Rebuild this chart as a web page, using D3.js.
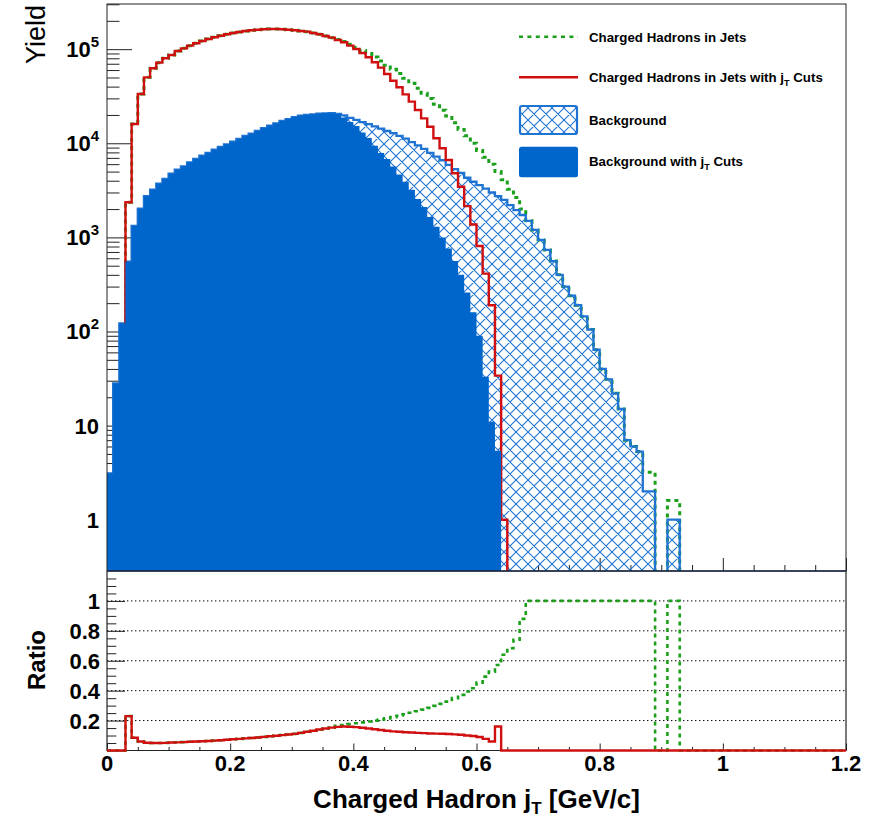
<!DOCTYPE html>
<html><head><meta charset="utf-8">
<script src="https://cdn.jsdelivr.net/npm/d3@7"></script>
<style>
html,body{margin:0;padding:0;background:#fff;}
svg{display:block;font-family:"Liberation Sans",Arial,Helvetica,sans-serif;}
</style></head><body>
<svg id="c" width="896" height="819"></svg>
<script>
// ---------------- data (bins of width 0.01 GeV/c, from 0 to 1.2) ----------------
const binWidth = 0.01;
const nBins = 120;

// Charged Hadrons in Jets with jT Cuts (red)
const chWithCuts = [0,0,0,2360,16000,33400,50200,62700,71900,80000,
  86700,95700,102000,109000,115600,122300,128400,133700,139000,143900,
  148500,152300,156100,158600,161000,162600,164000,164000,162600,161000,
  158600,156000,153500,148700,143900,138100,132500,125300,118400,109000,
  100500,91100,82000,72600,63600,54500,46200,39400,33100,27700,
  22600,18400,15000,11300,8850,6640,4800,3450,2150,1370,
  810,412,190,34,1.0,0,0,0,0,0,
  0,0,0,0,0,0,0,0,0,0, 0,0,0,0,0,0,0,0,0,0, 0,0,0,0,0,0,0,0,0,0,
  0,0,0,0,0,0,0,0,0,0, 0,0,0,0,0,0,0,0,0,0];

// Charged Hadrons in Jets (green dashed)
const chAll = [0,0,0,2360,16000,33400,50200,62700,71900,80000,
  86700,95700,102000,109000,115600,122300,128400,133700,139000,143900,
  148500,152300,156100,158600,161000,162600,164000,164000,162600,161000,
  158600,156000,153500,148700,143900,138100,132500,127000,120500,113000,
  104500,97000,90000,82500,75000,67500,61000,55000,49000,43500,
  38500,34000,30000,26000,22500,19500,16500,14000,12000,10000,
  8400,7100,6000,5000,4100,3250,2650,2000,1500,1200,
  940,735,560,400,300,240,190,145,105,64,
  40,31,22,15,7,6,5.3,3.2,3.2,0,
  0,1.6,1.6,0,0,0,0,0,0,0, 0,0,0,0,0,0,0,0,0,0, 0,0,0,0,0,0,0,0,0,0];

// Background (hatched)
const bkgAll = [3.1,28,122,552,1321,2020,2740,3210,3720,4180,
  4750,5240,5690,6280,6810,7380,7880,8550,9140,9750,
  10400,11100,11960,12650,13520,14440,15400,16300,17250,18100,
  19000,19700,20000,20300,20600,20800,20900,20500,19800,18600,
  17700,16800,16000,15100,14300,13500,12800,12000,11200,10300,
  9500,8700,7900,7200,6600,5900,5300,4850,4300,3900,
  3600,3300,3000,2750,2500,2200,1950,1730,1500,1200,
  940,735,560,400,300,240,190,145,105,64,
  40,31,22,15,7,6,5.3,2,2,0,
  0,1,1,0,0,0,0,0,0,0, 0,0,0,0,0,0,0,0,0,0, 0,0,0,0,0,0,0,0,0,0];

// Background with jT Cuts (filled)
const bkgWithCuts = [3.1,28,122,552,1321,2020,2740,3210,3720,4180,
  4750,5240,5690,6280,6810,7380,7880,8550,9140,9750,
  10400,11100,11960,12650,13520,14440,15400,16300,17250,18100,
  19000,19700,20000,20300,20600,20800,20900,20300,18800,16800,
  15300,13000,11400,9400,7900,6800,5650,4650,3900,3200,
  2550,2100,1650,1300,1000,760,560,400,260,160,
  90,33,11,5.4,0,0,0,0,0,0,
  0,0,0,0,0,0,0,0,0,0, 0,0,0,0,0,0,0,0,0,0, 0,0,0,0,0,0,0,0,0,0,
  0,0,0,0,0,0,0,0,0,0, 0,0,0,0,0,0,0,0,0,0];

// Ratio panel: background with cuts / hadrons with cuts (red)
const ratioWithCuts = [0,0,0,0.23,0.085,0.06,0.052,0.05,0.05,0.051,
  0.053,0.054,0.056,0.058,0.06,0.062,0.064,0.066,0.069,0.072,
  0.075,0.078,0.081,0.084,0.087,0.091,0.095,0.099,0.103,0.107,
  0.111,0.118,0.125,0.132,0.14,0.147,0.153,0.158,0.16,0.159,
  0.156,0.152,0.147,0.142,0.137,0.132,0.128,0.125,0.122,0.12,
  0.118,0.116,0.114,0.113,0.112,0.11,0.108,0.105,0.10,0.097,
  0.09,0.078,0.06,0.16,0,0,0,0,0,0,
  0,0,0,0,0,0,0,0,0,0, 0,0,0,0,0,0,0,0,0,0, 0,0,0,0,0,0,0,0,0,0,
  0,0,0,0,0,0,0,0,0,0, 0,0,0,0,0,0,0,0,0,0];

// Ratio panel: background / hadrons (green dashed)
const ratioAll = [0,0,0,0.23,0.085,0.06,0.052,0.05,0.05,0.051,
  0.053,0.054,0.056,0.058,0.06,0.062,0.064,0.066,0.069,0.072,
  0.075,0.078,0.081,0.084,0.087,0.091,0.095,0.099,0.103,0.107,
  0.111,0.118,0.125,0.132,0.14,0.147,0.153,0.165,0.17,0.176,
  0.182,0.188,0.194,0.20,0.207,0.215,0.223,0.232,0.242,0.252,
  0.262,0.273,0.285,0.298,0.312,0.327,0.35,0.372,0.394,0.416,
  0.454,0.494,0.527,0.572,0.64,0.684,0.74,0.88,1,1,
  1,1,1,1,1,1,1,1,1,1, 1,1,1,1,1,1,1,1,1,0,
  0,1,1,0,0,0,0,0,0,0, 0,0,0,0,0,0,0,0,0,0, 0,0,0,0,0,0,0,0,0,0];

const xTicksMajor = [0,0.2,0.4,0.6,0.8,1.0,1.2];
const xTickLabels = ["0","0.2","0.4","0.6","0.8","1","1.2"];
const ratioTicksMajor = [0.2,0.4,0.6,0.8,1.0];
const ratioTickLabels = ["0.2","0.4","0.6","0.8","1"];
const logLabelExp = [0,1,2,3,4,5];
const legendLabels = ["Charged Hadrons in Jets","Charged Hadrons in Jets with j","Background","Background with j"];

// ---------------- layout ----------------
const L = 107, R = 846, T = 4, B1 = 571, B2 = 750.5;
const cRed = "#d01010", cGreen = "#1ba01b", cBlue = "#0066cc", cHatch = "#1f73d2";

const svg = d3.select("#c");
const defs = svg.append("defs");
const pat = defs.append("pattern").attr("id","hatch").attr("patternUnits","userSpaceOnUse")
  .attr("width",12).attr("height",12);
pat.append("path").attr("d","M-1,-1L13,13M-1,13L13,-1M-3,9L3,15M9,-3L15,3M-3,3L3,-3M9,15L15,9")
  .attr("stroke",cHatch).attr("stroke-width",1.1).attr("fill","none");
defs.append("clipPath").attr("id","clipTop").append("rect")
  .attr("x",L).attr("y",T).attr("width",R-L).attr("height",B1-T);

const x = d3.scaleLinear([0,1.2],[L,R]);
const yTop = d3.scaleLog([0.285,3.02e5],[B1,T]);
const yRat = d3.scaleLinear([0,1.2],[B2,B1]);

function stepPoints(vals){
  const pts=[[0,0]];
  vals.forEach((v,i)=>{pts.push([i*binWidth,v]);pts.push([(i+1)*binWidth,v]);});
  pts.push([nBins*binWidth,0]);
  return pts;
}
const yT = v => v>0 ? yTop(v) : B1+10;
const lineTop = d3.line().x(d=>x(d[0])).y(d=>yT(d[1]));
const areaTop = d3.area().x(d=>x(d[0])).y0(B1+10).y1(d=>yT(d[1]));
const lineRat = d3.line().x(d=>x(d[0])).y(d=>yRat(d[1]));

// ---------------- top panel ticks (under histograms) ----------------
const tickCol = "#222";
const majorLog = logLabelExp.map(e=>Math.pow(10,e));
const minorLog = [];
[-1,0,1,2,3,4,5].forEach(e=>{for(let k=2;k<=9;k++){const v=k*Math.pow(10,e); if(v>=0.285&&v<=3.02e5) minorLog.push(v);}});
const gT = svg.append("g");
gT.append("g").attr("transform",`translate(${L},0)`)
  .call(d3.axisRight(yTop).tickValues(minorLog).tickSize(12.5).tickFormat(""))
  .call(g=>{g.select(".domain").remove(); g.selectAll("line").attr("stroke",tickCol);});
gT.append("g").attr("transform",`translate(${L},0)`)
  .call(d3.axisRight(yTop).tickValues(majorLog).tickSize(25).tickFormat(""))
  .call(g=>{g.select(".domain").remove(); g.selectAll("line").attr("stroke",tickCol);});
const xMinor = d3.range(0,1.2001,0.05).filter(v=>Math.abs(v*5-Math.round(v*5))>1e-6);
gT.append("g").attr("transform",`translate(0,${B1})`)
  .call(d3.axisTop(x).tickValues(xMinor).tickSize(6).tickFormat(""))
  .call(g=>{g.select(".domain").remove(); g.selectAll("line").attr("stroke",tickCol);});
gT.append("g").attr("transform",`translate(0,${B1})`)
  .call(d3.axisTop(x).tickValues(xTicksMajor).tickSize(13).tickFormat(""))
  .call(g=>{g.select(".domain").remove(); g.selectAll("line").attr("stroke",tickCol);});

// ---------------- top panel histograms ----------------
const gH = svg.append("g").attr("clip-path","url(#clipTop)");
gH.append("path").attr("d",areaTop(stepPoints(bkgAll))).attr("fill","url(#hatch)");
gH.append("path").attr("d",lineTop(stepPoints(chAll))).attr("fill","none")
  .attr("stroke",cGreen).attr("stroke-width",3).attr("stroke-dasharray","4,4");
gH.append("path").attr("d",lineTop(stepPoints(bkgAll))).attr("fill","none")
  .attr("stroke",cHatch).attr("stroke-width",2.3);
gH.append("path").attr("d",lineTop(stepPoints(chWithCuts))).attr("fill","none")
  .attr("stroke",cRed).attr("stroke-width",2.4);
gH.append("path").attr("d",areaTop(stepPoints(bkgWithCuts))).attr("fill",cBlue);

// frame top panel
svg.append("rect").attr("x",L).attr("y",T).attr("width",R-L).attr("height",B1-T)
  .attr("fill","none").attr("stroke","#222").attr("stroke-width",1);
svg.append("line").attr("x1",L).attr("x2",R).attr("y1",B1).attr("y2",B1)
  .attr("stroke","#1c2a48").attr("stroke-width",1.6);

// log labels
const gl = svg.append("g").attr("font-weight","bold").attr("font-size",22).attr("fill","#000");
logLabelExp.forEach(e=>{
  const t = gl.append("text").attr("x",99).attr("y",yTop(Math.pow(10,e))+8).attr("text-anchor","end");
  if(e===0) t.text("1");
  else if(e===1) t.text("10");
  else { t.append("tspan").text("10"); t.append("tspan").attr("font-size",15).attr("dy",-10).text(String(e)); }
});
svg.append("text").attr("transform","translate(45,5) rotate(-90)").attr("text-anchor","end")
  .attr("font-size",27).attr("fill","#000").text("Yield");

// legend
const lg = svg.append("g").attr("font-weight","bold").attr("font-size",13.3).attr("fill","#000");
lg.append("line").attr("x1",519).attr("x2",578).attr("y1",36.7).attr("y2",36.7)
  .attr("stroke",cGreen).attr("stroke-width",2.6).attr("stroke-dasharray","4,4.4");
lg.append("line").attr("x1",519).attr("x2",578).attr("y1",77.3).attr("y2",77.3)
  .attr("stroke",cRed).attr("stroke-width",2.4);
lg.append("rect").attr("x",520).attr("y",106).attr("width",57).attr("height",28).attr("rx",2)
  .attr("fill","url(#hatch)").attr("stroke",cHatch).attr("stroke-width",2.2);
lg.append("rect").attr("x",519).attr("y",146.7).attr("width",59).attr("height",30.6).attr("rx",2.5)
  .attr("fill",cBlue);
lg.append("text").attr("x",589).attr("y",41.5).text(legendLabels[0]);
const t2 = lg.append("text").attr("x",589).attr("y",82);
t2.append("tspan").text(legendLabels[1]);
t2.append("tspan").attr("font-size",9).attr("dy",4).text("T");
t2.append("tspan").attr("dy",-4).text(" Cuts");
lg.append("text").attr("x",589).attr("y",124.8).text(legendLabels[2]);
const t4 = lg.append("text").attr("x",589).attr("y",165.5);
t4.append("tspan").text(legendLabels[3]);
t4.append("tspan").attr("font-size",9).attr("dy",4).text("T");
t4.append("tspan").attr("dy",-4).text(" Cuts");

// ---------------- ratio panel ----------------
const gR = svg.append("g");
const rMinor = d3.range(0,1.2001,0.05).filter(v=>Math.abs(v*5-Math.round(v*5))>1e-6);
gR.append("g").attr("transform",`translate(${L},0)`)
  .call(d3.axisRight(yRat).tickValues(rMinor).tickSize(9.3).tickFormat(""))
  .call(g=>{g.select(".domain").remove(); g.selectAll("line").attr("stroke",tickCol);});
gR.append("g").attr("transform",`translate(${L},0)`)
  .call(d3.axisRight(yRat).tickValues([0].concat(ratioTicksMajor)).tickSize(18).tickFormat(""))
  .call(g=>{g.select(".domain").remove(); g.selectAll("line").attr("stroke",tickCol);});
gR.append("g").attr("transform",`translate(0,${B2})`)
  .call(d3.axisTop(x).tickValues(xMinor).tickSize(3.5).tickFormat(""))
  .call(g=>{g.select(".domain").remove(); g.selectAll("line").attr("stroke",tickCol);});
gR.append("g").attr("transform",`translate(0,${B2})`)
  .call(d3.axisTop(x).tickValues(xTicksMajor).tickSize(7).tickFormat(""))
  .call(g=>{g.select(".domain").remove(); g.selectAll("line").attr("stroke",tickCol);});
// dotted grid
gR.selectAll("line.grid").data(ratioTicksMajor).join("line").attr("class","grid")
  .attr("x1",L).attr("x2",R).attr("y1",d=>yRat(d)).attr("y2",d=>yRat(d))
  .attr("stroke","#000").attr("stroke-width",1).attr("stroke-dasharray","1.4,2.6");
// frame
gR.append("path").attr("d",`M${L},${B1}L${L},${B2}L${R},${B2}L${R},${B1}`)
  .attr("fill","none").attr("stroke","#222").attr("stroke-width",1.2);
// ratio lines
gR.append("path").attr("d",lineRat(stepPoints(ratioAll))).attr("fill","none")
  .attr("stroke",cGreen).attr("stroke-width",2.6).attr("stroke-dasharray","4,4");
gR.append("path").attr("d",lineRat(stepPoints(ratioWithCuts))).attr("fill","none")
  .attr("stroke",cRed).attr("stroke-width",2.4);

// ratio labels
const rl = svg.append("g").attr("font-weight","bold").attr("font-size",22).attr("fill","#000");
ratioTicksMajor.forEach((v,i)=>{
  rl.append("text").attr("x",100).attr("y",yRat(v)+8).attr("text-anchor","end").text(ratioTickLabels[i]);
});
svg.append("text").attr("transform","translate(45,660) rotate(-90)").attr("text-anchor","middle")
  .attr("font-size",24).attr("font-weight","bold").attr("fill","#000").text("Ratio");

// x labels
const xl = svg.append("g").attr("font-weight","bold").attr("font-size",22).attr("fill","#000");
xTicksMajor.forEach((v,i)=>{
  xl.append("text").attr("x",x(v)).attr("y",771).attr("text-anchor","middle").text(xTickLabels[i]);
});
const xt = svg.append("text").attr("x",(L+R)/2).attr("y",808).attr("text-anchor","middle")
  .attr("font-size",26).attr("font-weight","bold").attr("fill","#000");
xt.append("tspan").text("Charged Hadron j");
xt.append("tspan").attr("font-size",17).attr("dy",6).text("T");
xt.append("tspan").attr("dy",-6).text(" [GeV/c]");
</script>
</body></html>
